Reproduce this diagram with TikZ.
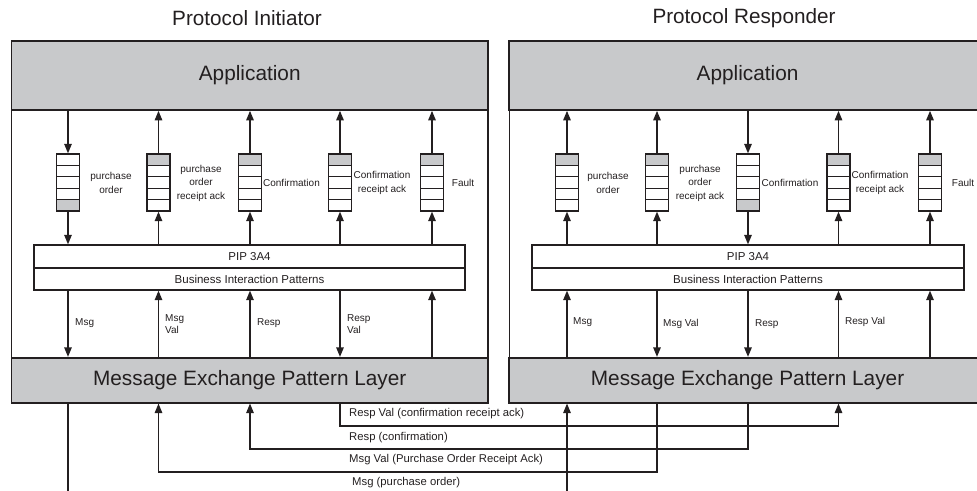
\documentclass[tikz,border=0pt]{standalone}
\usepackage{fontspec}
\setmainfont{Liberation Sans}
\usetikzlibrary{arrows.meta,calc}
\definecolor{bandgray}{RGB}{200,201,203}
\definecolor{ink}{RGB}{35,31,32}
\begin{document}
\begin{tikzpicture}[x=1pt,y=-1pt,
  panel/.style={draw=ink, line width=1.5pt, inner sep=0pt, minimum width=476.5pt, minimum height=361.7pt},
  band/.style={draw=ink, fill=bandgray, line width=1.7pt, inner sep=0pt, minimum width=476.5pt, text=ink, font=\fontsize{20.8}{25}\selectfont},
  title/.style={text=ink, font=\fontsize{20.7}{25}\selectfont},
  pip/.style={draw=ink, fill=white, line width=1.3pt, inner sep=0pt, minimum width=431pt, text=ink, font=\fontsize{11.5}{14}\selectfont},
  queue/.style={draw=ink, fill=white, line width=1.3pt, minimum width=23pt, minimum height=57pt, inner sep=0pt,
    path picture={
      \fill[bandgray] ($(path picture bounding box.north west)!#1!(path picture bounding box.south west)$) rectangle ($(path picture bounding box.north east)!#1+0.2!(path picture bounding box.south east)$);
      \foreach \k in {1,2,3,4}{\draw[ink,line width=1.2pt] ($(path picture bounding box.north west)!\k/5!(path picture bounding box.south west)$) -- ($(path picture bounding box.north east)!\k/5!(path picture bounding box.south east)$);}
    }},
  queue/.default=0,
  qlbl/.style={text=ink, align=center, inner sep=0pt, font=\fontsize{10}{13.5}\selectfont},
  lbl/.style={text=ink, align=left, anchor=west, inner sep=0pt, font=\fontsize{10}{12}\selectfont},
  blbl/.style={text=ink, anchor=west, inner sep=0pt, font=\fontsize{11.3}{13}\selectfont},
  conn/.style={draw=ink, line width=1.3pt},
  arr/.style={-{Triangle[length=9.5pt,width=7.5pt]}}
]
\useasboundingbox (0,0) rectangle (977,490);
\clip (0,0) rectangle (977,490);

% titles
\node[title] (Ltitle) at (247,18) {Protocol Initiator};
\node[title] (Rtitle) at (744,18) {Protocol Responder};

% panels
\node[panel] (Lpanel) at (249.75,221.85) {};
\node[panel] (Rpanel) at (747.55,221.85) {};
\node[band, minimum height=69pt] (Lapp) at (249.75,75.5) {Application};
\node[band, minimum height=69pt] (Rapp) at (747.55,75.5) {Application};
\node[band, minimum height=45pt] (Lmep) at (249.75,380.2) {Message Exchange Pattern Layer};
\node[band, minimum height=45pt] (Rmep) at (747.55,380.2) {Message Exchange Pattern Layer};

% PIP boxes
\node[pip, minimum height=23pt] (Lpip) at (249.5,256.5) {PIP 3A4};
\node[pip, minimum height=22pt] (Lbip) at (249.5,279) {Business Interaction Patterns};
\node[pip, minimum width=432pt, minimum height=23pt] (Rpip) at (748,256.5) {PIP 3A4};
\node[pip, minimum width=432pt, minimum height=22pt] (Rbip) at (748,279) {Business Interaction Patterns};

% queues left
\node[queue=0.8] (Lq1) at (68,182.5) {};
\node[queue] (Lq2) at (158.5,182.5) {};
\node[queue] (Lq3) at (250,182.5) {};
\node[queue] (Lq4) at (340,182.5) {};
\node[queue] (Lq5) at (432,182.5) {};
% queues right
\node[queue] (Rq1) at (567,182.5) {};
\node[queue] (Rq2) at (657,182.5) {};
\node[queue=0.8] (Rq3) at (748,182.5) {};
\node[queue] (Rq4) at (838.5,182.5) {};
\node[queue] (Rq5) at (930,182.5) {};

% queue labels
\node[qlbl] (Lql1) at (111,183) {purchase\\order};
\node[qlbl] (Lql2) at (201,183) {purchase\\order\\receipt ack};
\node[qlbl] (Lql3) at (291.5,183) {Confirmation};
\node[qlbl] (Lql4) at (382,183) {Confirmation\\receipt ack};
\node[qlbl] (Lql5) at (463,183) {Fault};
\node[qlbl] (Rql1) at (608,183) {purchase\\order};
\node[qlbl] (Rql2) at (700,183) {purchase\\order\\receipt ack};
\node[qlbl] (Rql3) at (790,183) {Confirmation};
\node[qlbl] (Rql4) at (880,183) {Confirmation\\receipt ack};
\node[qlbl] (Rql5) at (963,183) {Fault};

% Application <-> queues
\draw[conn,arr] (Lq1.north |- Lapp.south) -- (Lq1.north);
\foreach \q in {Lq2,Lq3,Lq4,Lq5} \draw[conn,arr] (\q.north) -- (\q.north |- Lapp.south);
\draw[conn,arr] (Rq3.north |- Rapp.south) -- (Rq3.north);
\foreach \q in {Rq1,Rq2,Rq4,Rq5} \draw[conn,arr] (\q.north) -- (\q.north |- Rapp.south);

% queues <-> PIP
\draw[conn,arr] (Lq1.south) -- (Lq1.south |- Lpip.north);
\foreach \q in {Lq2,Lq3,Lq4,Lq5} \draw[conn,arr] (\q.south |- Lpip.north) -- (\q.south);
\draw[conn,arr] (Rq3.south) -- (Rq3.south |- Rpip.north);
\foreach \q in {Rq1,Rq2,Rq4,Rq5} \draw[conn,arr] (\q.south |- Rpip.north) -- (\q.south);

% PIP <-> MEP
\foreach \q in {Lq1,Lq4} \draw[conn,arr] (\q.south |- Lbip.south) -- (\q.south |- Lmep.north);
\foreach \q in {Lq2,Lq3,Lq5} \draw[conn,arr] (\q.south |- Lmep.north) -- (\q.south |- Lbip.south);
\foreach \q in {Rq2,Rq3} \draw[conn,arr] (\q.south |- Rbip.south) -- (\q.south |- Rmep.north);
\foreach \q in {Rq1,Rq4,Rq5} \draw[conn,arr] (\q.south |- Rmep.north) -- (\q.south |- Rbip.south);

% message labels
\node[lbl] (Lm1) at (75,323) {Msg};
\node[lbl] (Lm2) at (165,324) {Msg\\Val};
\node[lbl] (Lm3) at (257,323) {Resp};
\node[lbl] (Lm4) at (347,324) {Resp\\Val};
\node[lbl] (Rm1) at (573,322) {Msg};
\node[lbl] (Rm2) at (663,324) {Msg Val};
\node[lbl] (Rm3) at (755,324) {Resp};
\node[lbl] (Rm4) at (845,322) {Resp Val};

% bottom connectors
\coordinate (yRV) at (0,426);
\coordinate (yR) at (0,449);
\coordinate (yMV) at (0,472);
\coordinate (Lend) at (68,495);
\coordinate (Rend) at (567,495);
\draw[conn] (Lq1.south |- Lmep.south) -- (Lend);
\draw[conn,arr] (Rend) -- (Rq1.south |- Rmep.south);
\draw[conn,arr] (Rq2.south |- Rmep.south) -- (Rq2.south |- yMV) -| (Lq2.south |- Lmep.south);
\draw[conn,arr] (Rq3.south |- Rmep.south) -- (Rq3.south |- yR) -| (Lq3.south |- Lmep.south);
\draw[conn,arr] (Lq4.south |- Lmep.south) -- (Lq4.south |- yRV) -| (Rq4.south |- Rmep.south);

\node[blbl] (b1) at (349,414) {Resp Val (confirmation receipt ack)};
\node[blbl] (b2) at (349,438) {Resp (confirmation)};
\node[blbl] (b3) at (349,460) {Msg Val (Purchase Order Receipt Ack)};
\node[blbl] (b4) at (352,483) {Msg (purchase order)};
\end{tikzpicture}
\end{document}
